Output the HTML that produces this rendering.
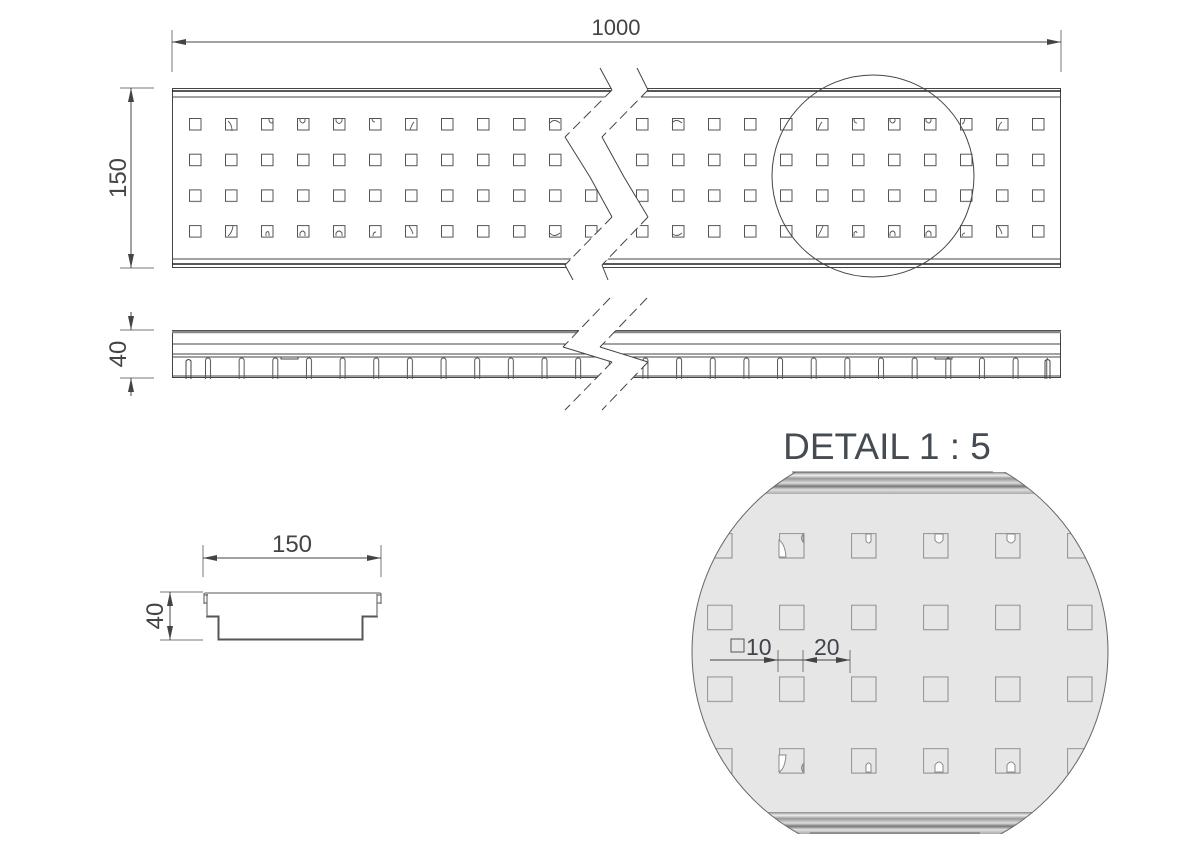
<!DOCTYPE html>
<html><head><meta charset="utf-8"><style>
html,body{margin:0;padding:0;background:#fff;}
svg{display:block;font-family:"Liberation Sans",sans-serif;}
</style></head><body>
<svg width="1200" height="846" viewBox="0 0 1200 846" xmlns="http://www.w3.org/2000/svg">
<defs>
 <pattern id="sq" x="189" y="118" width="36" height="35.7" patternUnits="userSpaceOnUse">
  <rect x="0.5" y="0.5" width="11.5" height="11.5" fill="none" stroke="#555" stroke-width="1"/>
 </pattern>
 <pattern id="sq2" x="636" y="118" width="36" height="35.7" patternUnits="userSpaceOnUse">
  <rect x="0.5" y="0.5" width="11.5" height="11.5" fill="none" stroke="#555" stroke-width="1"/>
 </pattern>
 <pattern id="rib" x="205" y="355" width="33.65" height="30" patternUnits="userSpaceOnUse">
  <path d="M0.5 24 V6 Q0.5 3 3 3 Q5.5 3 5.5 6 V24" fill="none" stroke="#555" stroke-width="1"/>
 </pattern>
 <pattern id="dsq" x="707" y="533" width="72" height="71.7" patternUnits="userSpaceOnUse">
  <rect x="0.5" y="0.5" width="24.5" height="24.5" fill="none" stroke="#9a9a9a" stroke-width="1.2"/>
 </pattern>
 <clipPath id="circ"><circle cx="900" cy="652" r="208"/></clipPath>
 <clipPath id="circ2"><rect x="600" y="472" width="600" height="362"/></clipPath>
 <linearGradient id="band" x1="0" y1="0" x2="0" y2="1">
  <stop offset="0" stop-color="#888"/><stop offset="0.15" stop-color="#eee"/><stop offset="0.3" stop-color="#999"/>
  <stop offset="0.5" stop-color="#ddd"/><stop offset="0.65" stop-color="#777"/><stop offset="0.8" stop-color="#e0e0e0"/><stop offset="1" stop-color="#aaa"/>
 </linearGradient>
 <marker id="ar" markerWidth="14" markerHeight="6" refX="14" refY="3" orient="auto" markerUnits="userSpaceOnUse">
  <path d="M0 0 L14 3 L0 6 Z" fill="#444"/>
 </marker>
</defs>

<g stroke="#777" stroke-width="1">
 <line x1="172" y1="30" x2="172" y2="72"/>
 <line x1="1061" y1="30" x2="1061" y2="72"/>
 <line x1="120" y1="88" x2="154" y2="88"/>
 <line x1="120" y1="268" x2="154" y2="268"/>
 <line x1="120" y1="330" x2="154" y2="330"/>
 <line x1="120" y1="378" x2="154" y2="378"/>
</g>
<g stroke="#444" stroke-width="1">
 <line x1="616" y1="42" x2="172" y2="42" marker-end="url(#ar)"/>
 <line x1="616" y1="42" x2="1061" y2="42" marker-end="url(#ar)"/>
 <line x1="131" y1="178" x2="131" y2="88" marker-end="url(#ar)"/>
 <line x1="131" y1="178" x2="131" y2="268" marker-end="url(#ar)"/>
 <line x1="131" y1="312" x2="131" y2="330" marker-end="url(#ar)"/>
 <line x1="131" y1="396" x2="131" y2="378" marker-end="url(#ar)"/>
</g>
<text x="616" y="35" font-size="22" fill="#444" text-anchor="middle">1000</text>
<text transform="translate(126,178) rotate(-90)" font-size="24" fill="#444" text-anchor="middle">150</text>
<text transform="translate(126,354) rotate(-90)" font-size="24" fill="#444" text-anchor="middle">40</text>

<g fill="none" stroke="#444" stroke-width="1">
 <rect x="172.5" y="88.5" width="888" height="179"/>
 <line x1="172" y1="91" x2="1061" y2="91" stroke="#222" stroke-width="1.5"/>
 <line x1="172" y1="97" x2="1061" y2="97"/>
 <line x1="172" y1="259" x2="1061" y2="259"/>
 <line x1="172" y1="264" x2="1061" y2="264" stroke="#222" stroke-width="1.5"/>
</g>
<rect x="185" y="115" width="420" height="125" fill="url(#sq)"/>
<rect x="630" y="115" width="420" height="125" fill="url(#sq2)"/>
<g fill="none" stroke="#555" stroke-width="0.9">
 <path d="M228 121 q4 3 4 10 M237 119 v5"/><path d="M269 119 q0 4 3 4 q1 0 1-4"/><path d="M300 118 v3 q3 4 5 0 v-3"/><path d="M336 118 v3 q3 5 6 0 v-3"/><path d="M372 118 q0 4 3 4"/><path d="M410 130 q2-6 4-8"/>
 <path d="M228 236 q4-3 5-10"/><path d="M266 236 v-3 q2-3 3 0 v3"/><path d="M300 236 v-3 q3-4 5 0 v3"/><path d="M336 236 v-3 q3-4 6 0 v3"/><path d="M373 236 q0-4 3-4"/><path d="M409 226 q3 4 4 8"/>
 <path d="M818 130 q2-6 4-8"/><path d="M854 119 q0 4 3 4"/><path d="M890 118 v3 q3 4 5 0 v-3"/><path d="M926 118 v3 q3 4 5 0 v-3"/><path d="M962 124 q2 0 3-6"/><path d="M998 130 q1-6 4-8"/>
 <path d="M818 236 q3-5 5-10"/><path d="M854 236 v-3 q2-3 3 0"/><path d="M890 236 v-3 q3-4 5 0 v3"/><path d="M926 236 v-3 q3-4 5 0 v3"/><path d="M962 236 q1-3 3-3"/><path d="M998 226 q3 4 4 8"/>
 <path d="M550 123 q4-5 10 0"/><path d="M550 233 q4 5 10 0"/><path d="M672 123 q4-5 10 0"/><path d="M672 233 q4 5 10 0"/>
</g>
<polygon points="600,68 612,90 565,137 590,177 612,217 565,265 573,280 608,280 602,265 648,217 624,177 602,137 648,90 637,68" fill="#fff"/>
<g fill="none" stroke="#444" stroke-width="1">
 <polyline points="600,68 612,90"/><polyline points="565,137 590,177 612,217" />
 <polyline points="565,265 573,280"/>
 <polyline points="637,68 648,90"/><polyline points="602,137 624,177 648,217"/>
 <polyline points="602,265 608,280"/>
 <g stroke-dasharray="10,5"><line x1="612" y1="90" x2="565" y2="137"/><line x1="612" y1="217" x2="565" y2="265"/><line x1="648" y1="90" x2="602" y2="137"/><line x1="648" y1="217" x2="602" y2="265"/></g>
</g>
<circle cx="873" cy="176" r="101" fill="none" stroke="#444" stroke-width="1"/>

<g fill="none" stroke="#444" stroke-width="1">
 <rect x="172.5" y="330.5" width="888" height="47"/>
 <line x1="172" y1="332" x2="1061" y2="332" stroke="#888" stroke-width="2.5"/>
 <line x1="172" y1="344" x2="1061" y2="344"/>
 <line x1="172" y1="354" x2="1061" y2="354"/>
 <line x1="172" y1="357" x2="1061" y2="357"/>
 <line x1="172" y1="376" x2="1061" y2="376"/>
 <rect x="281" y="357" width="17" height="2"/>
 <rect x="935" y="357" width="17" height="2"/>
 <path d="M186 379 V361 q2.5-3 5 0 V379"/>
 <path d="M1045 379 V361 q2.5-3 5 0 V379"/>
</g>
<rect x="203" y="355" width="845" height="25" fill="url(#rib)"/>
<polygon points="610,298 563,347 612,362 565,410 602,410 648,362 600,347 647,298" fill="#fff"/>
<g fill="none" stroke="#444" stroke-width="1">
 <polyline points="563,347 612,362"/><polyline points="600,347 648,362"/>
 <g stroke-dasharray="10,5"><line x1="610" y1="298" x2="563" y2="347"/><line x1="612" y1="362" x2="565" y2="410"/><line x1="647" y1="298" x2="600" y2="347"/><line x1="648" y1="362" x2="602" y2="410"/></g>
</g>

<g stroke="#777" stroke-width="1">
 <line x1="203" y1="545" x2="203" y2="577"/>
 <line x1="381" y1="545" x2="381" y2="577"/>
 <line x1="160" y1="592" x2="203" y2="592"/>
 <line x1="160" y1="640" x2="203" y2="640"/>
</g>
<g stroke="#444" stroke-width="1">
 <line x1="292" y1="558" x2="203" y2="558" marker-end="url(#ar)"/>
 <line x1="292" y1="558" x2="381" y2="558" marker-end="url(#ar)"/>
 <line x1="170" y1="616" x2="170" y2="592" marker-end="url(#ar)"/>
 <line x1="170" y1="616" x2="170" y2="640" marker-end="url(#ar)"/>
</g>
<text x="292" y="552" font-size="24" fill="#444" text-anchor="middle">150</text>
<text transform="translate(163,616) rotate(-90)" font-size="24" fill="#444" text-anchor="middle">40</text>
<g fill="none" stroke="#555" stroke-width="1">
 <path d="M204 604 V594 q0-1 2-1 H379 q2 0 2 1 V604"/>
 <path d="M207 594 V616 H219 V639 H362 V616 H377 V594"/>
 <path d="M204 595 H208 M204 603 H207 M377 595 H381 M377 603 H381"/>
 <path d="M206 617 H218 V640 H363 V617 H378"/>
</g>

<text x="887" y="459" font-size="37" fill="#454b52" text-anchor="middle">DETAIL 1 : 5</text>
<g clip-path="url(#circ2)">
 <g clip-path="url(#circ)">
  <rect x="690" y="440" width="420" height="410" fill="#e6e6e6"/>
  <rect x="690" y="472" width="420" height="22" fill="url(#band)"/>
  <rect x="690" y="812" width="420" height="22" fill="url(#band)"/>
  <rect x="630" y="528" width="480" height="260" fill="url(#dsq)"/>
  <g fill="#fff" stroke="#888" stroke-width="1">
   <path d="M779 540 q6 4 7 17 h-7z"/><path d="M803 534 q-3 4 0 8 v-8z"/>
   <path d="M866 534 v7 q3 4 5 0 v-7z"/><path d="M935 534 v6 q4 6 8 0 v-6z"/><path d="M1007 534 v6 q4 6 8 0 v-6z"/>
   <path d="M779 772 q6-3 7-17 h-7z"/><path d="M803 772 q-3-4 0-8 v8z"/>
   <path d="M866 772 v-7 q3-4 5 0 v7z"/><path d="M935 772 v-7 q4-6 8 0 v7z"/><path d="M1007 772 v-7 q4-6 8 0 v7z"/>
  </g>
 </g>
 <circle cx="900" cy="652" r="208" fill="none" stroke="#666" stroke-width="1"/>
</g>
<line x1="792" y1="472" x2="993" y2="472" stroke="#666"/>
<line x1="810" y1="833" x2="980" y2="833" stroke="#666"/>
<rect x="731" y="639" width="13" height="13" fill="none" stroke="#555" stroke-width="1"/>
<text x="746" y="655" font-size="23" fill="#3f454c">10</text>
<text x="814" y="655" font-size="23" fill="#3f454c">20</text>
<g stroke="#777" stroke-width="1">
 <line x1="778" y1="650" x2="778" y2="672"/>
 <line x1="803" y1="650" x2="803" y2="672"/>
 <line x1="850" y1="650" x2="850" y2="673"/>
</g>
<g stroke="#444" stroke-width="1">
 <line x1="710" y1="660" x2="778" y2="660" marker-end="url(#ar)"/>
 <line x1="778" y1="660" x2="803" y2="660"/>
 <line x1="826" y1="660" x2="803" y2="660" marker-end="url(#ar)"/>
 <line x1="826" y1="660" x2="850" y2="660" marker-end="url(#ar)"/>
</g>
</svg>
</body></html>
